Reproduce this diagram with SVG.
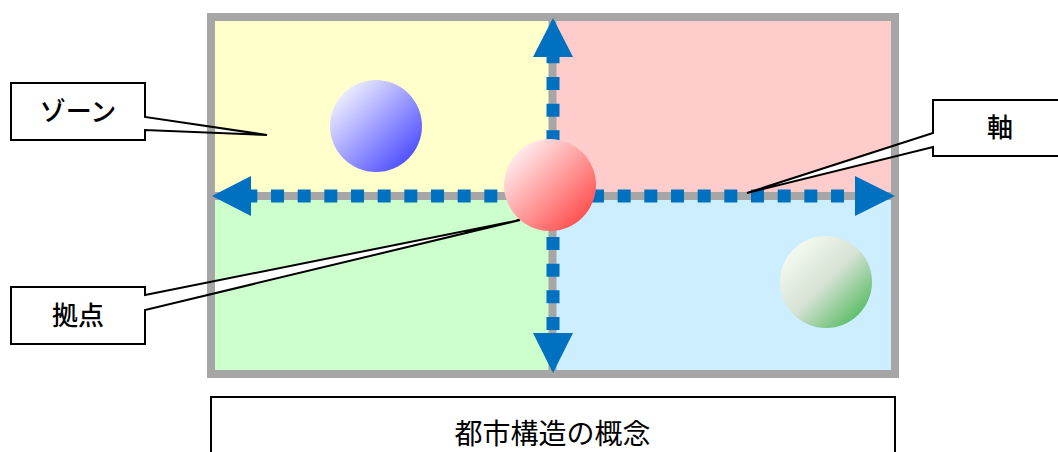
<svg xmlns="http://www.w3.org/2000/svg" xmlns:xlink="http://www.w3.org/1999/xlink" width="1058" height="452" viewBox="0 0 1058 452">
<style>
.lbl{font-family:"Noto Sans CJK JP","Noto Sans CJK SC",sans-serif;font-size:26px;font-weight:500;fill:#000;text-anchor:middle;dominant-baseline:central}
.ttl{font-size:28px;font-weight:400}
.co-fill{fill:#fff;stroke:none}
.co-line{fill:none;stroke:#000;stroke-width:2;stroke-linejoin:miter}
.gray{stroke:#a6a6a6;stroke-width:8;fill:none}
.axis{stroke:#0070c0;stroke-width:13;stroke-dasharray:13 13.667;stroke-dashoffset:6.667;fill:none}
.head{fill:#0070c0}
</style>
<defs>
<linearGradient id="gRed" x1="0" y1="0" x2="1" y2="1">
<stop offset="0.05" stop-color="#ffffff"/>
<stop offset="1" stop-color="#ff3333"/>
</linearGradient>
<linearGradient id="gBlue" x1="0" y1="0" x2="1" y2="1">
<stop offset="0.05" stop-color="#ffffff"/>
<stop offset="1" stop-color="#3333ff"/>
</linearGradient>
<linearGradient id="gGreen" x1="0" y1="0" x2="1" y2="1">
<stop offset="0.05" stop-color="#fbfff6"/>
<stop offset="0.5" stop-color="#d6e2d4"/>
<stop offset="1" stop-color="#30b040"/>
</linearGradient>
<path id="pZone" d="M11,83 H145 V117 L267,135 L145,130 V140 H11 Z"/>
<path id="pKyoten" d="M11,287 H145 V295 L520,220 L145,310 V344 H11 Z"/>
<path id="pJiku" d="M933,100 H1067 V156 H933 V147 L747,193 L933,133 Z"/>
</defs>

<g id="quadrants">
<rect x="211" y="17" width="341" height="179" fill="#ffffcc"/>
<rect x="552" y="17" width="343" height="179" fill="#ffcccc"/>
<rect x="211" y="196" width="341" height="178" fill="#ccffcc"/>
<rect x="552" y="196" width="343" height="178" fill="#cceeff"/>
</g>

<g id="callout-fills">
<use xlink:href="#pZone" class="co-fill"/>
<use xlink:href="#pKyoten" class="co-fill"/>
<use xlink:href="#pJiku" class="co-fill"/>
</g>

<g id="frame">
<rect x="211" y="17" width="684" height="357" class="gray"/>
<line x1="211" y1="196" x2="895" y2="196" class="gray"/>
<line x1="552.5" y1="17" x2="552.5" y2="374" class="gray"/>
</g>

<g id="connectors">
<line x1="251" y1="196" x2="855" y2="196" class="axis"/>
<line x1="553" y1="57" x2="553" y2="333" class="axis"/>
<polygon class="head" points="212,196 251,176 251,216"/>
<polygon class="head" points="895,196 855,176 855,216"/>
<polygon class="head" points="553,18 533,57 573,57"/>
<polygon class="head" points="553,373 533,333 573,333"/>
</g>

<g id="callout-zone">
<use xlink:href="#pZone" class="co-line"/>
<text class="lbl" x="78" y="109.5">ゾーン</text>
</g>
<g id="callout-kyoten">
<use xlink:href="#pKyoten" class="co-line"/>
<text class="lbl" x="78" y="313.5">拠点</text>
</g>
<g id="callout-jiku">
<use xlink:href="#pJiku" class="co-line"/>
<text class="lbl" x="1000" y="125">軸</text>
</g>

<g id="sphere-blue"><circle cx="376" cy="126" r="46" fill="url(#gBlue)"/></g>
<g id="sphere-green"><circle cx="826" cy="282" r="46" fill="url(#gGreen)"/></g>
<g id="sphere-red"><circle cx="550" cy="185" r="46" fill="url(#gRed)"/></g>

<g id="title">
<rect x="211" y="397" width="684" height="80" fill="#fff" stroke="#000" stroke-width="2"/>
<text class="lbl ttl" x="552.5" y="432">都市構造の概念</text>
</g>
</svg>
